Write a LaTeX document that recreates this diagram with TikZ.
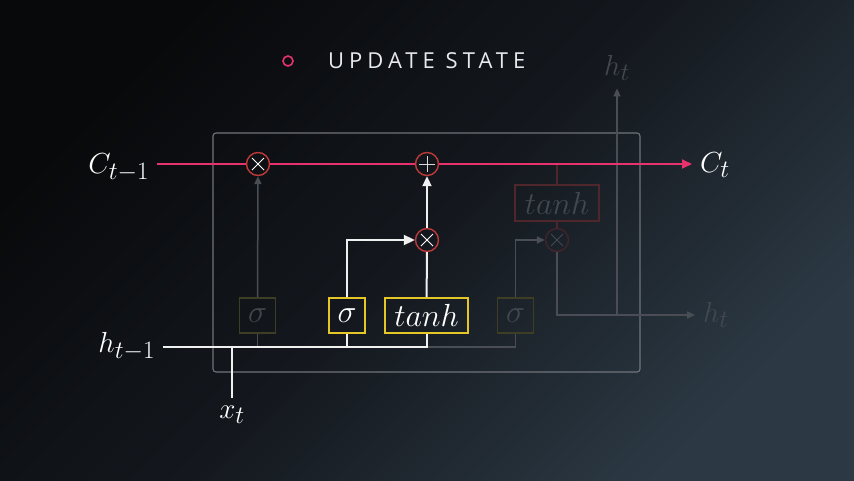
\documentclass[tikz,border=0pt]{standalone}
\usepackage{fix-cm}
\usepackage{fontspec}
\newfontfamily\titlefont[LetterSpace=23]{Open Sans}
\usetikzlibrary{arrows.meta, positioning, calc}
\DeclareMathSizes{29}{29}{25}{19}
\definecolor{bgdark}{RGB}{8,9,11}
\definecolor{bgmid}{RGB}{20,24,30}
\definecolor{bglight}{RGB}{44,57,68}
\definecolor{cellpink}{RGB}{232,50,110}
\definecolor{opred}{RGB}{190,58,58}
\definecolor{gateyellow}{RGB}{228,198,38}
\definecolor{titlegray}{RGB}{232,234,237}
\definecolor{framegray}{RGB}{112,116,122}
\definecolor{dimline}{RGB}{74,78,84}
\definecolor{dimtext}{RGB}{66,72,80}
\definecolor{dimolive}{RGB}{62,62,36}
\definecolor{dimred}{RGB}{78,38,44}
\definecolor{dimop}{RGB}{64,38,44}

\tikzset{
  lbl/.style={text=white, font=\fontsize{29}{32}\selectfont, inner sep=4pt, outer sep=4pt},
  dimlbl/.style={lbl, text=dimtext},
  gatebox/.style={draw=gateyellow, line width=1.8pt, minimum height=35pt, minimum width=36pt,
                  inner sep=2pt, text=white, font=\fontsize{32}{34}\selectfont},
  dimgate/.style={gatebox, draw=dimolive, text=dimtext, line width=1.4pt},
  op/.style={circle, draw=opred, line width=1.4pt, minimum size=23pt, inner sep=0pt},
  times/.style={op, path picture={\draw[white, line width=1pt]
      (path picture bounding box.center) +(-6,-6) -- +(6,6) +(-6,6) -- +(6,-6);}},
  dimtimes/.style={op, draw=dimop, path picture={\draw[dimtext, line width=1pt]
      (path picture bounding box.center) +(-6,-6) -- +(6,6) +(-6,6) -- +(6,-6);}},
  plus/.style={op, path picture={\draw[white!85!black, line width=1pt]
      (path picture bounding box.center) +(-8,0) -- +(8,0) +(0,-8) -- +(0,8);}},
  cellline/.style={cellpink, line width=2pt},
  hline/.style={white!94!black, line width=2pt},
  dimwire/.style={dimline, line width=1.5pt},
  dimredwire/.style={dimred, line width=1.5pt}
}

\begin{document}
\begin{tikzpicture}[x=1pt, y=-1pt,
    >={Triangle[length=10pt, width=9pt]}]
  % Background
  \shade[top color=bgdark, bottom color=bglight, middle color=bgmid, shading angle=45]
    (0,0) rectangle (854,480);
  \useasboundingbox (0,0) rectangle (854,480);

  % Title
  \node[circle, draw=cellpink, line width=1.6pt, minimum size=10pt, inner sep=0pt] (bullet) at (288,61) {};
  \node[right=34pt of bullet, inner sep=0pt, text=titlegray,
        font=\titlefont\fontsize{22}{24}\selectfont] (title) {UPDATE STATE};

  % Cell frame
  \draw[framegray, line width=1.1pt, rounded corners=3pt] (213,133) rectangle (640,372);

  % Operators and gates
  \node[times]    (forget) at (258,164) {};
  \node[plus]     (add)    at (427,164) {};
  \node[times]    (scale)  at (427,240) {};
  \node[dimtimes] (out)    at (557,240) {};
  \node[dimgate]  (fgate)  at (257.5,315.5) {$\sigma$};
  \node[gatebox]  (igate)  at (347,315.5)   {$\sigma$};
  \node[gatebox, minimum width=83pt] (cand) at (426.5,315.5) {$tanh$};
  \node[dimgate]  (ogate)  at (515.5,315.5) {$\sigma$};
  \node[dimgate, draw=dimred, minimum width=84pt, minimum height=36pt] (squash) at (557,203) {$tanh$};

  % Labels
  \node[lbl, anchor=base east]    (Cprev) at (157,173) {$C_{t-1}$};
  \node[lbl, anchor=base west]    (Cnext) at (692,172) {$C_t$};
  \node[lbl, anchor=base east]    (hprev) at (163,352) {$h_{t-1}$};
  \node[lbl, anchor=base]         (xin)   at (232,418) {$x_t$};
  \node[dimlbl, anchor=base]      (htop)  at (617,75)  {$h_t$};
  \node[dimlbl, anchor=base west] (hnext) at (695,322) {$h_t$};

  \coordinate (hbus) at (0,347);
  \coordinate (hout) at (0,315);

  % Faded paths
  \draw[dimwire] (fgate.south |- hbus) -- (fgate.south);
  \draw[dimwire, -{Triangle[length=8pt, width=7pt]}] (fgate) -- (forget);
  \draw[dimwire] (cand.south |- hbus) -| (ogate.south);
  \draw[dimwire, -{Triangle[length=8pt, width=7pt]}] (ogate.north) |- (out);
  \draw[dimredwire] (squash.north |- add) -- (squash.north);
  \draw[dimredwire] (squash) -- (out);
  \draw[dimwire, -{Triangle[length=8pt, width=7pt]}] (out) |- (hnext.west |- hout);
  \draw[dimwire, -{Triangle[length=8pt, width=7pt]}] (htop.south |- hout) -- (htop.south);

  % Cell state
  \draw[cellline] (Cprev.east |- forget) -- (forget) -- (add);
  \draw[cellline, ->] (add) -- (add -| Cnext.west);

  % Input path
  \draw[hline] (hprev.east |- hbus) -- (cand.south |- hbus) -- (cand.south);
  \draw[hline] (xin) -- (xin |- hbus);
  \draw[hline] (igate.south |- hbus) -- (igate.south);
  \draw[hline, -{Triangle[length=11pt, width=10pt]}] (igate.north) |- (scale);
  \draw[hline] (cand) -- (scale);
  \draw[hline, ->] (scale) -- (add);
\end{tikzpicture}
\end{document}
